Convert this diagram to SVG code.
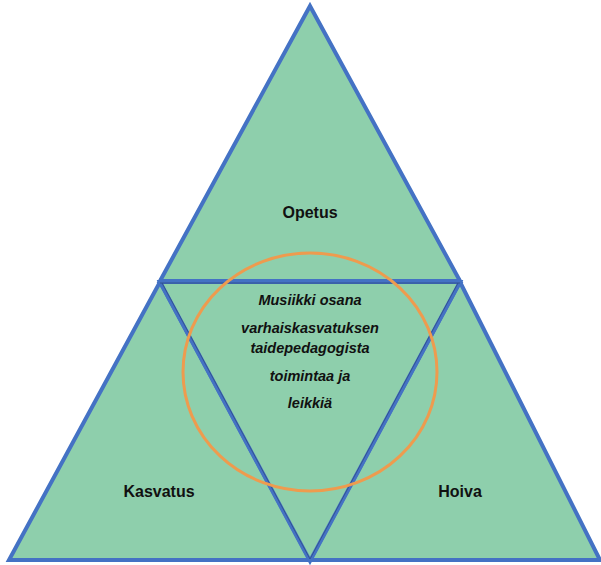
<svg xmlns="http://www.w3.org/2000/svg" width="601" height="565" viewBox="0 0 601 565">
<style>
.tri{fill:#8ECFAC;stroke:#4472C4;stroke-width:4;stroke-linejoin:miter}
.edge{fill:none;stroke:#2F4A86;stroke-width:0.8}
.lbl{font-family:"Liberation Sans",Arial,sans-serif;font-weight:bold;font-size:16px;fill:#111;text-anchor:middle}
.mid{font-family:"Liberation Sans",Arial,sans-serif;font-weight:bold;font-style:italic;font-size:14.5px;fill:#111;text-anchor:middle}
</style>
<rect width="601" height="565" fill="#fff"/>
<g id="opetus">
<polygon class="tri" points="310,6 460,281 160,281"/>
<text class="lbl" x="310" y="218">Opetus</text>
</g>
<g id="kasvatus">
<polygon class="tri" points="160,282 310,560 9,560"/>
<text class="lbl" x="159" y="497">Kasvatus</text>
</g>
<g id="hoiva">
<polygon class="tri" points="460,282 600,560 310,560"/>
<text class="lbl" x="460" y="497">Hoiva</text>
</g>
<g id="keskus">
<polygon class="tri" points="160,282 460,282 310,561"/>
<polyline class="edge" points="162,283 310,559 458,283"/>
<line class="edge" x1="160" y1="283" x2="460" y2="283"/>
</g>
<g id="ympyra">
<ellipse cx="310" cy="372" rx="127" ry="119" fill="none" stroke="#EE9B4E" stroke-width="3"/>
<text class="mid" x="310" y="305">Musiikki osana</text>
<text class="mid" x="310" y="333">varhaiskasvatuksen</text>
<text class="mid" x="310" y="353">taidepedagogista</text>
<text class="mid" x="310" y="381">toimintaa ja</text>
<text class="mid" x="310" y="408">leikkiä</text>
</g>
<g id="connectors"></g>
</svg>
